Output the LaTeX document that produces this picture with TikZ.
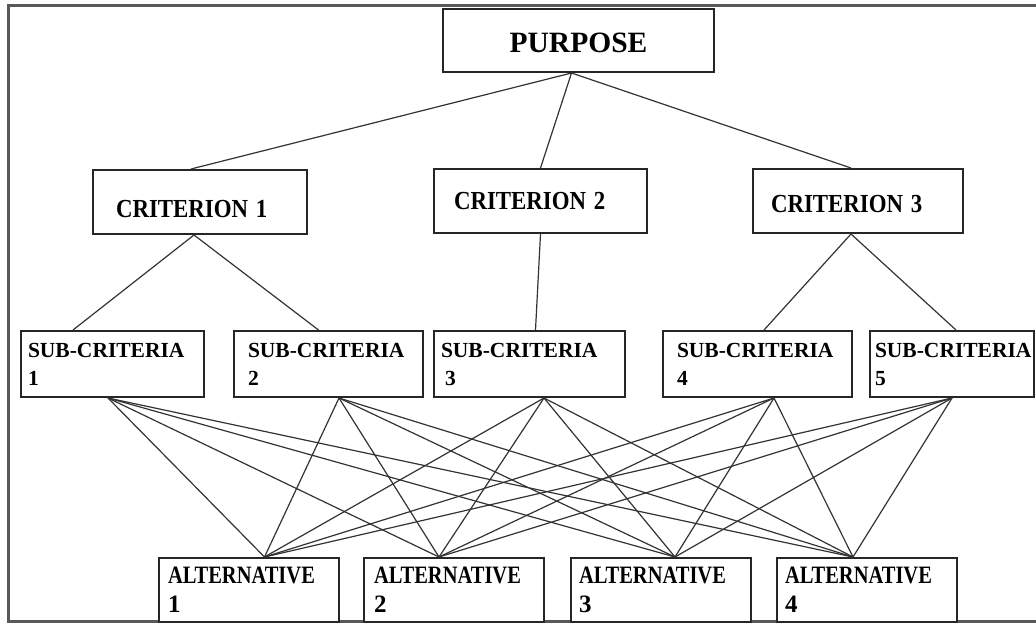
\documentclass[tikz,border=0pt]{standalone}
\usepackage{fontspec}
\setmainfont{Liberation Serif}
\usepackage{graphicx}
\tikzset{
  box/.style={draw=black!85, line width=2pt, anchor=north west, inner ysep=0pt, fill=white},
  crit/.style={box, minimum width=#1, minimum height=64pt, align=left,
    font=\fontsize{26}{30}\selectfont\bfseries},
  subbox/.style={box, minimum height=66pt, align=left,
    font=\fontsize{21.5}{28}\selectfont\bfseries},
  altbox/.style={box, minimum width=180pt, minimum height=64pt, align=left,
    font=\fontsize{25}{29}\selectfont\bfseries},
  conn/.style={line width=1.2pt, draw=black!80},
  frame/.style={line width=3pt, draw=black!65}
}
\newcommand\sq[1]{\scalebox{0.82}[1]{#1}}
\newcommand\cq[1]{\scalebox{0.88}[1]{#1}}
\newcommand\down[2]{\raisebox{-#1}[\height][\depth]{#2}}
\begin{document}
\begin{tikzpicture}[x=1pt,y=-1pt]
\useasboundingbox (0,0) rectangle (1036,626);
\fill[white] (0,0) rectangle (1036,626);
\draw[frame] (1045,6) -- (8,6) -- (8,621) -- (1045,621);

\node[box, minimum width=271pt, minimum height=63pt, align=center,
  font=\fontsize{29.5}{32}\selectfont\bfseries] (P) at (442,8) {\down{2pt}{PURPOSE}};

\node[crit=214pt, inner xsep=23pt, text width=168pt] (C1) at (92,169) {\down{7pt}{\cq{CRITERION 1}}};
\node[crit=213pt, inner xsep=20pt, text width=173pt] (C2) at (433,168) {\cq{CRITERION 2}};
\node[crit=210pt, inner xsep=18pt, text width=174pt] (C3) at (752,168) {\down{3pt}{\cq{CRITERION 3}}};

\node[subbox, minimum width=183pt, inner xsep=7pt, text width=169pt] (S1) at (20,330) {\mbox{SUB-CRITERIA}\\1};
\node[subbox, minimum width=189pt, inner xsep=14pt, text width=161pt] (S2) at (233,330) {\mbox{SUB-CRITERIA}\\2};
\node[subbox, minimum width=191pt, inner xsep=7pt, text width=177pt] (S3) at (433,330) {\mbox{SUB-CRITERIA}\\\hspace*{4pt}3};
\node[subbox, minimum width=189pt, inner xsep=14pt, text width=161pt] (S4) at (662,330) {\mbox{SUB-CRITERIA}\\4};
\node[subbox, minimum width=164pt, inner xsep=5pt, text width=154pt] (S5) at (869,330) {\mbox{SUB-CRITERIA}\\5};

\node[altbox, inner xsep=9pt, text width=162pt] (A1) at (158,557) {\sq{ALTERNATIVE}\\1};
\node[altbox, inner xsep=10pt, text width=160pt] (A2) at (363,557) {\sq{ALTERNATIVE}\\2};
\node[altbox, inner xsep=8pt, text width=164pt] (A3) at (570,557) {\sq{ALTERNATIVE}\\3};
\node[altbox, inner xsep=8pt, text width=164pt] (A4) at (776,557) {\sq{ALTERNATIVE}\\4};

\draw[conn] ([xshift=-7pt]P.south) -- ([xshift=-9pt]C1.north);
\draw[conn] ([xshift=-7pt]P.south) -- (C2.north);
\draw[conn] ([xshift=-7pt]P.south) -- ([xshift=-7pt]C3.north);

\draw[conn] ([xshift=-6pt]C1.south) -- ([xshift=-39.5pt]S1.north);
\draw[conn] ([xshift=-6pt]C1.south) -- ([xshift=-10pt]S2.north);
\draw[conn] (C2.south) -- ([xshift=6pt]S3.north);
\draw[conn] ([xshift=-7pt]C3.south) -- ([xshift=6.5pt]S4.north);
\draw[conn] ([xshift=-7pt]C3.south) -- ([xshift=4pt]S5.north);

\foreach \s/\sx in {S1/-4.5, S2/10.5, S3/14.5, S4/16.5, S5/0}{
  \foreach \a/\ax in {A1/15.5, A2/-15, A3/14, A4/-14}{
    \draw[conn] ([xshift=\sx pt]\s.south) -- ([xshift=\ax pt]\a.north);
  }
}
\end{tikzpicture}
\end{document}
